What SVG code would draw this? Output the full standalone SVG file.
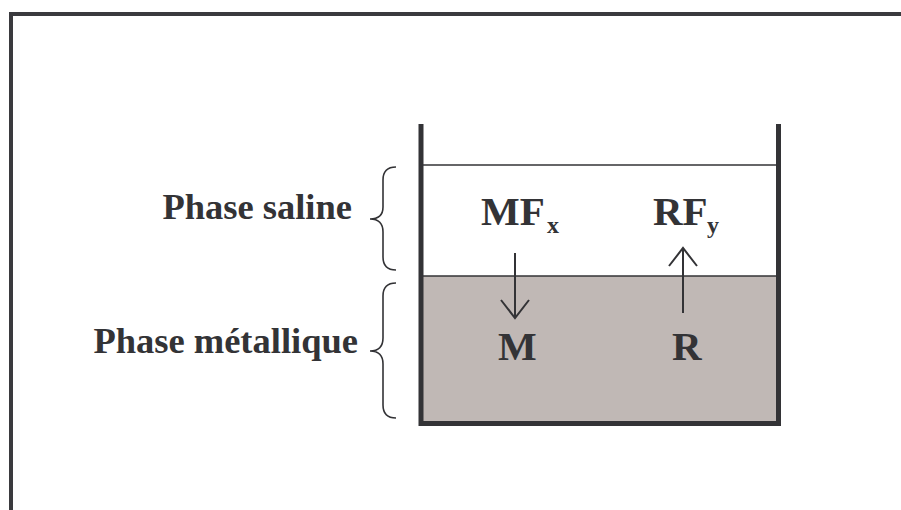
<svg xmlns="http://www.w3.org/2000/svg" width="901" height="510" viewBox="0 0 901 510">
<style>
.t{font-family:"Liberation Serif","Times New Roman",serif;font-weight:bold;fill:#333336}
.lbl{font-size:36.5px;text-anchor:end}
.big{font-size:41px}
.sub{font-size:24px}
.wall{stroke:#333336;stroke-width:5;fill:none}
.thin{stroke:#333336;stroke-width:1.5;fill:none}
.brace{stroke:#333336;stroke-width:1.6;fill:none}
.arr{stroke:#333336;stroke-width:2;fill:none}
</style>
<rect width="901" height="510" fill="#ffffff"/>
<path d="M11,510 L11,14 L901,14" stroke="#3a3a3e" stroke-width="4" fill="none"/>
<g id="container">
<rect x="421" y="276" width="357.5" height="145" fill="#c0b8b5"/>
<line class="thin" x1="421" y1="165" x2="778.5" y2="165"/>
<line class="thin" x1="421" y1="276" x2="778.5" y2="276"/>
<path class="wall" d="M421,124 L421,423.5 L778.5,423.5 L778.5,124"/>
</g>
<g id="phase-saline">
<text class="t lbl" x="352" y="219">Phase saline</text>
<path class="brace" d="M396,167 Q383,167 383,180 L383,207 Q383,219 370,219 Q383,219 383,232 L383,257 Q383,270 396,270"/>
</g>
<g id="phase-metallique">
<text class="t lbl" x="358" y="353">Phase métallique</text>
<path class="brace" d="M396,283 Q383,283 383,296 L383,338 Q383,351 370,351 Q383,351 383,364 L383,405 Q383,418 396,418"/>
</g>
<g id="MFx">
<text class="t big" x="481" y="225">MF</text>
<text class="t sub" x="547" y="233">x</text>
</g>
<g id="RFy">
<text class="t big" x="653" y="225">RF</text>
<text class="t sub" x="707" y="233">y</text>
</g>
<g id="M">
<text class="t big" x="498" y="360">M</text>
</g>
<g id="R">
<text class="t big" x="672" y="360">R</text>
</g>
<g id="connectors">
<path class="arr" d="M515,253 L515,318 M501,300 L515,318 L529,300"/>
<path class="arr" d="M683,313 L683,248 M669,266 L683,248 L697,266"/>
</g>
</svg>
